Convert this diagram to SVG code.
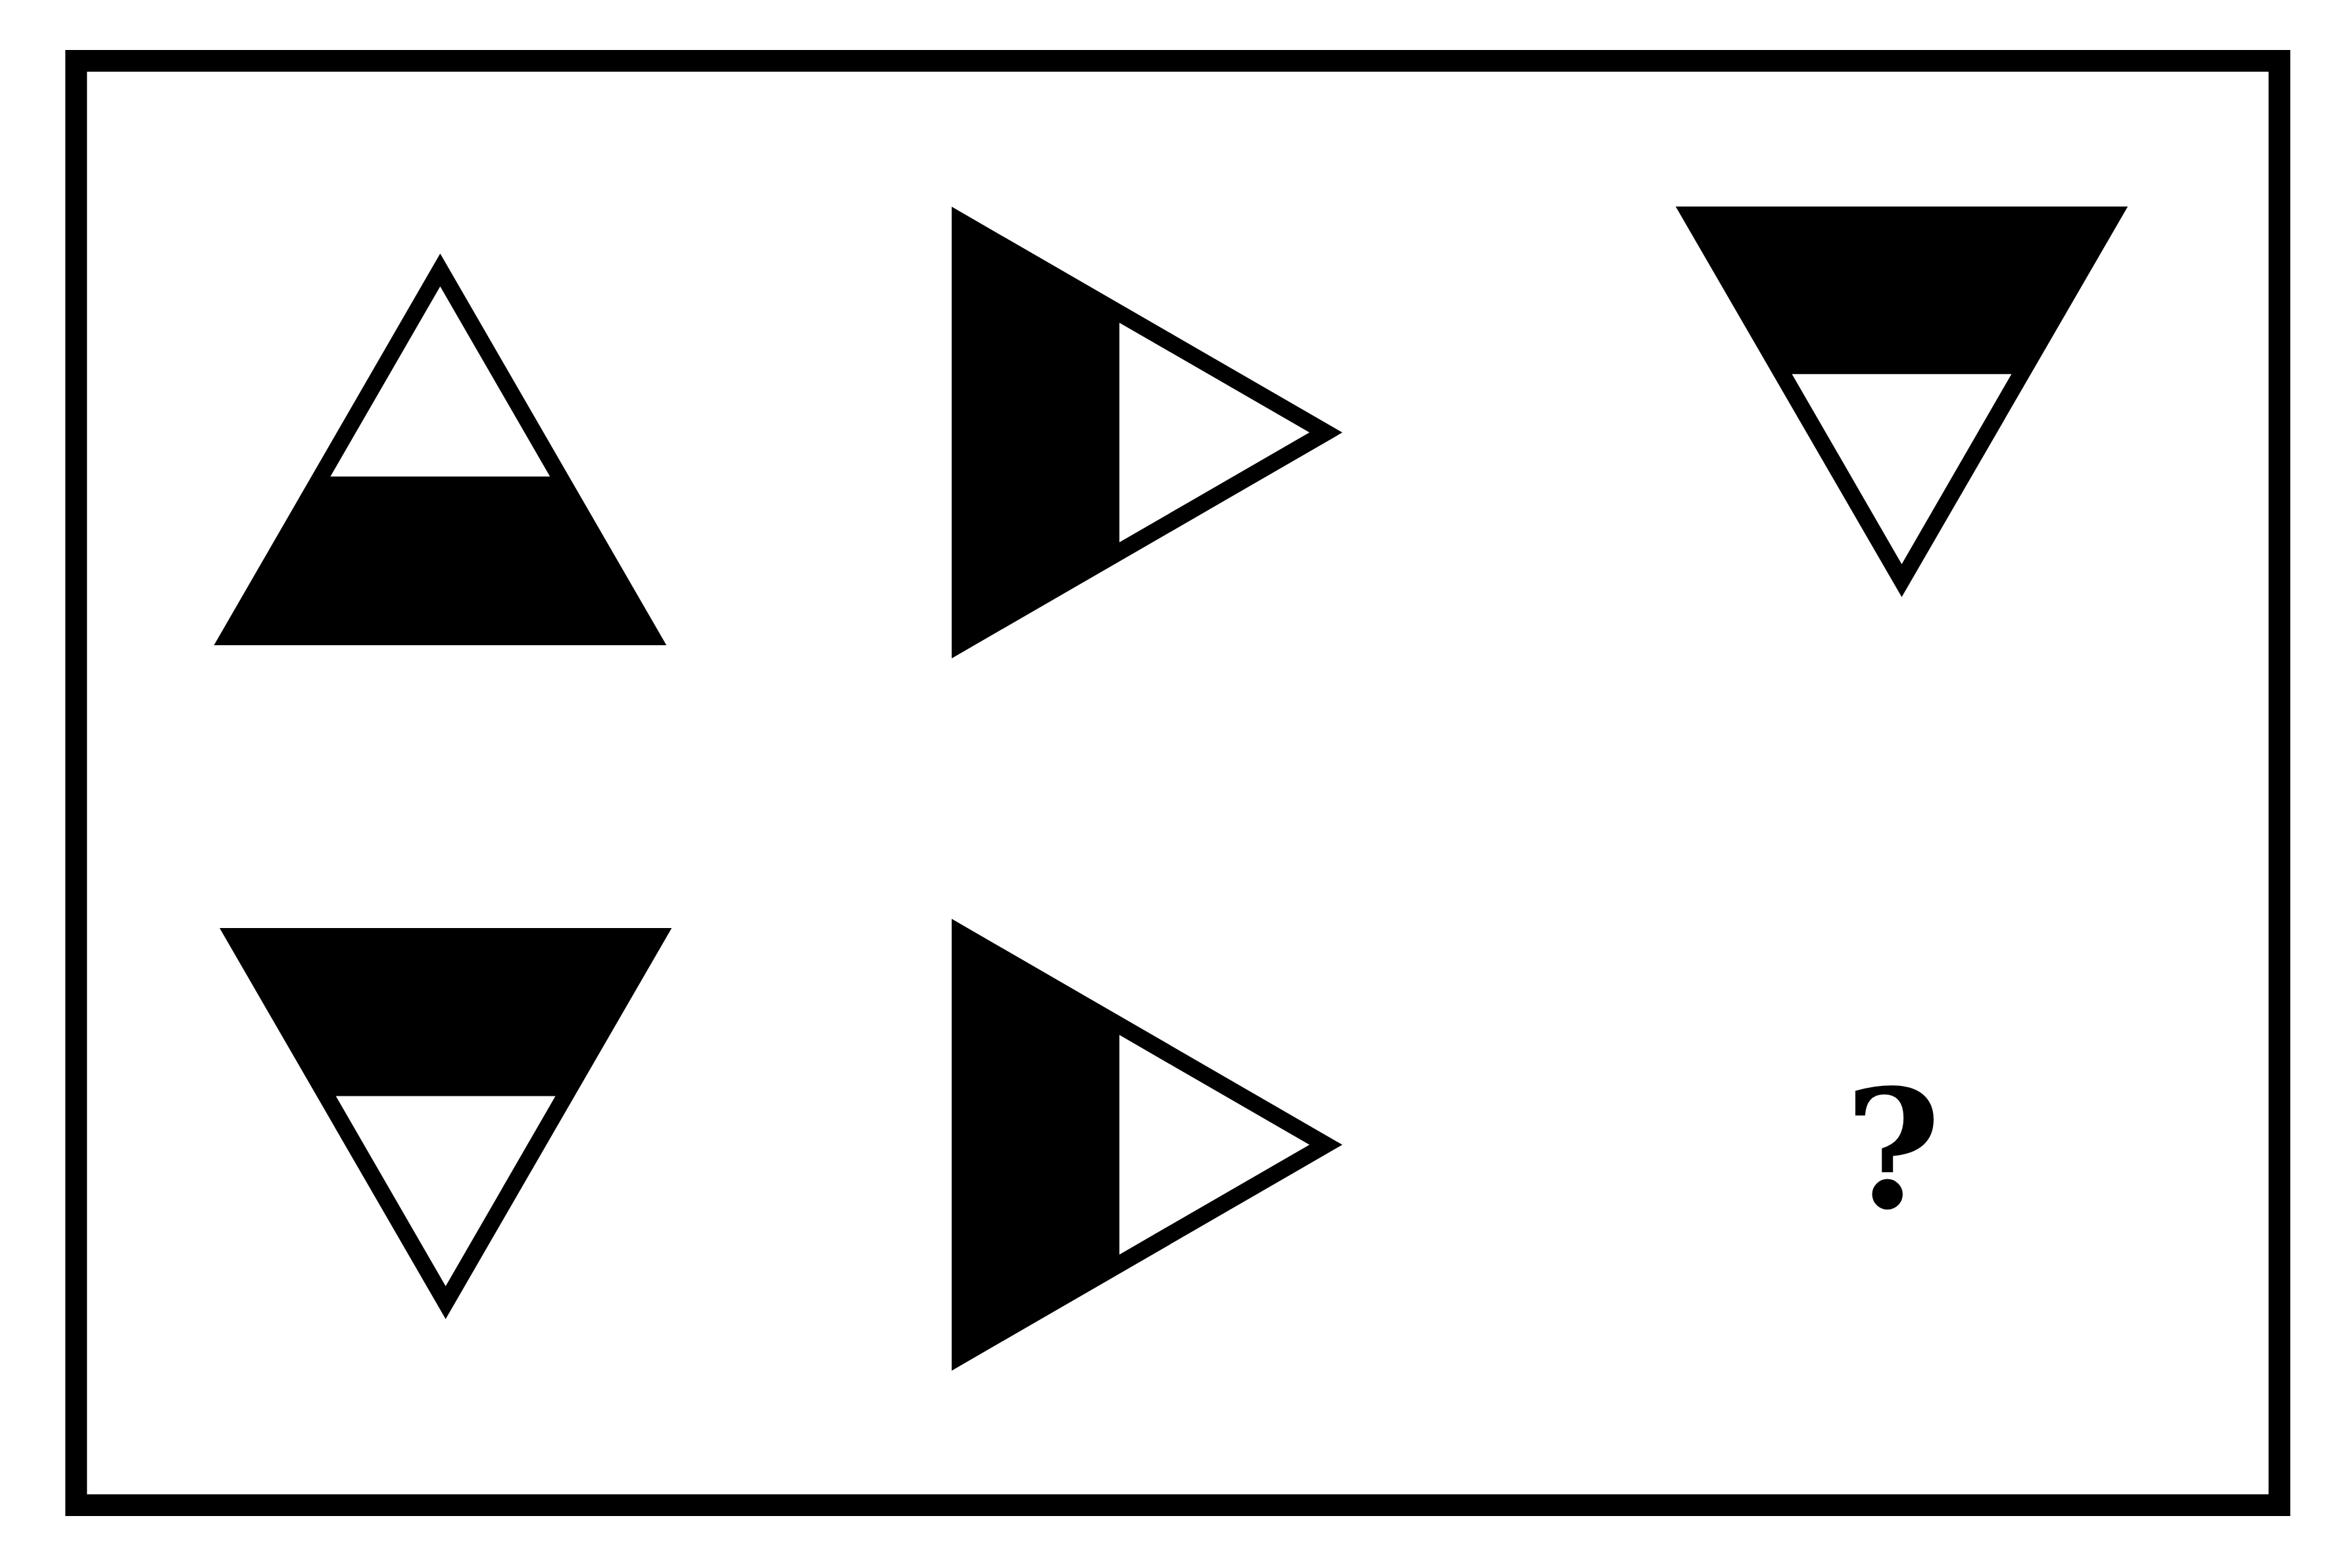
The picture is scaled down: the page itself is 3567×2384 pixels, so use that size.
<svg xmlns="http://www.w3.org/2000/svg" width="3567" height="2384" viewBox="0 0 3567 2384">
<style>
.o{fill:#000}
.i{fill:#fff}
.q{font-family:"DejaVu Serif","Liberation Serif",serif;font-weight:bold;font-size:250px;fill:#000}
</style>
<rect x="0" y="0" width="3567" height="2384" fill="#fff"/>
<rect id="frame" x="115.8" y="92.5" width="3350" height="2196" fill="none" stroke="#000" stroke-width="33"/>
<g id="fig1">
<polygon class="o" points="669.3,385.5 325.3,981 1013.3,981"/>
<polygon class="i" points="669.3,435.5 502.4,724.5 836.2,724.5"/>
</g>
<g id="fig2">
<polygon class="o" points="1447,314.3 1447,1001 2041,657.6"/>
<polygon class="i" points="1702,490.7 1702,824.5 1991,657.6"/>
</g>
<g id="fig3">
<polygon class="o" points="2547.8,314 3235.2,314 2891.5,907.7"/>
<polygon class="i" points="2724.6,568.7 3058.4,568.7 2891.5,857.7"/>
</g>
<g id="fig4">
<polygon class="o" points="333.9,1411 1021.3,1411 677.6,2005.5"/>
<polygon class="i" points="510.7,1666.5 844.5,1666.5 677.6,1955.5"/>
</g>
<g id="fig5">
<polygon class="o" points="1447,1397 1447,2084 2041,1740.5"/>
<polygon class="i" points="1702,1573.6 1702,1907.4 1991,1740.5"/>
</g>
<g id="question">
<text class="q" x="2878" y="1835" text-anchor="middle">?</text>
</g>
<g id="connectors"/>
</svg>
